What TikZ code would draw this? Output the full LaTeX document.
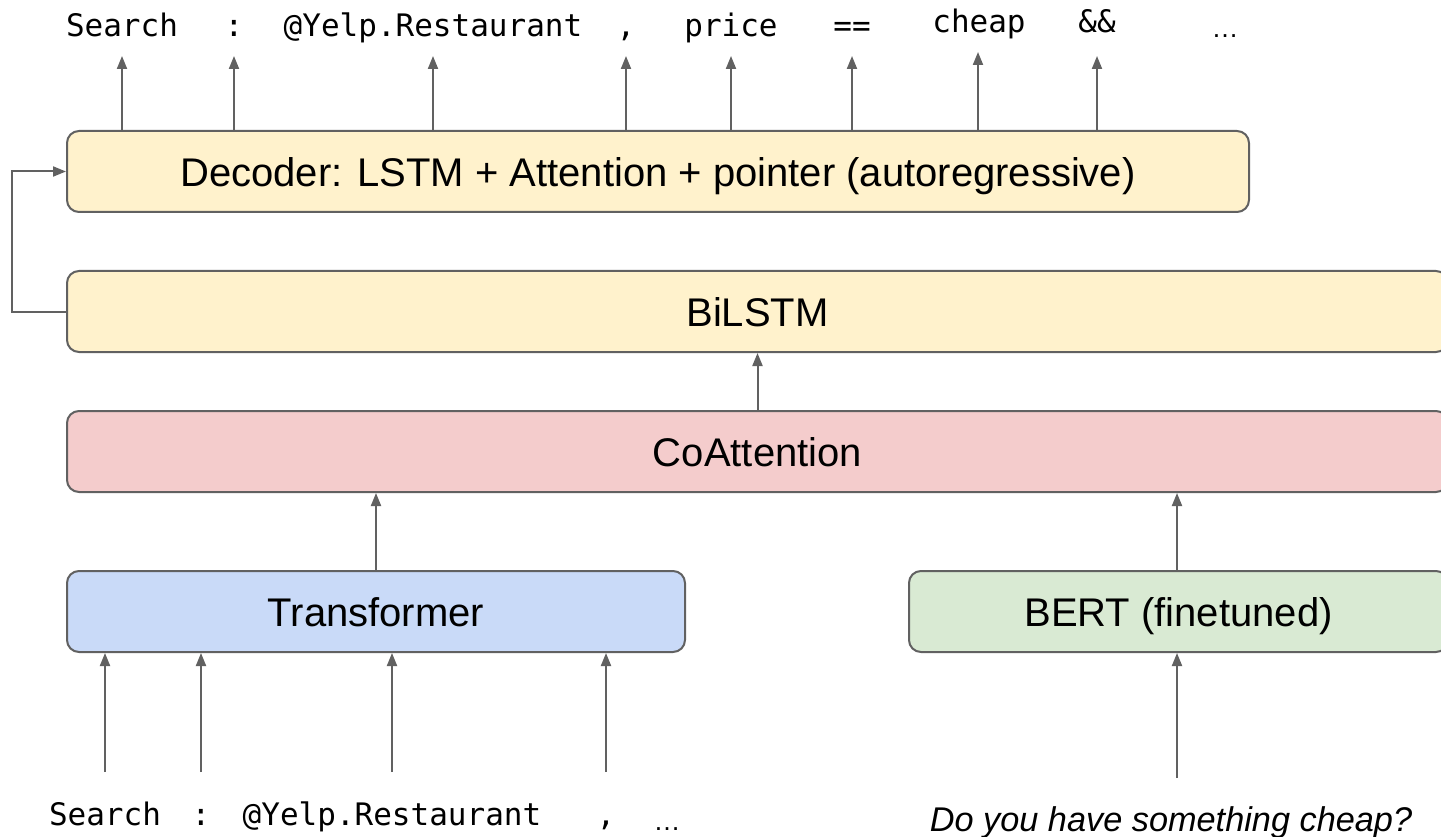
\documentclass[tikz,border=0pt]{standalone}
\usepackage{fontspec}
\setmainfont{Liberation Sans}
\setmonofont{DejaVu Sans Mono}
\usetikzlibrary{arrows.meta}

\definecolor{edge}{HTML}{616161}
\definecolor{yellowbox}{HTML}{FFF2CC}
\definecolor{pinkbox}{HTML}{F4CCCC}
\definecolor{bluebox}{HTML}{C9DAF8}
\definecolor{greenbox}{HTML}{D9EAD3}

\begin{document}
\begin{tikzpicture}[x=1pt, y=-1pt,
  layer/.style={draw=edge, line width=2pt, rounded corners=12pt, anchor=north west,
    inner sep=0pt, minimum height=81pt, text height=30pt, text depth=0pt,
    font=\fontsize{40}{48}\selectfont},
  tok/.style={anchor=base, inner sep=0pt, font=\ttfamily\fontsize{31}{36}\selectfont},
  dots/.style={anchor=base, inner sep=0pt, font=\rmfamily\fontsize{27}{32}\selectfont},
  arr/.style={draw=edge, line width=2pt, -{Triangle[length=13pt, width=10pt]}},
]
\useasboundingbox (0,0) rectangle (1441,837);
\clip (0,0) rectangle (1441,837);

% layers of the model
\node[layer, fill=yellowbox, minimum width=1182pt] (dec) at (66,130)
  {Decoder: LSTM + Attention + pointer (autoregressive)};
\node[layer, fill=yellowbox, minimum width=1381pt] (bilstm) at (66,270) {BiLSTM};
\node[layer, fill=pinkbox, minimum width=1381pt] (coatt) at (66,410) {CoAttention};
\node[layer, fill=bluebox, minimum width=618pt] (trans) at (66,570) {Transformer};
\node[layer, fill=greenbox, minimum width=539pt] (bert) at (908,570) {BERT (finetuned)};

% output tokens
\node[tok] (o1) at (122,37) {Search};
\node[tok] (o2) at (234,37) {:};
\node[tok] (o3) at (433,37) {@Yelp.Restaurant};
\node[tok] (o4) at (626,37) {,};
\node[tok] (o5) at (731,37) {price};
\node[tok] (o6) at (852,37) {==};
\node[tok] (o7) at (979,33) {cheap};
\node[tok] (o8) at (1097,33) {\&\&};
\node[dots] (o9) at (1225,38) {…};

% arrow tips below the output tokens
\coordinate (p1) at (122,56);
\coordinate (p2) at (234,56);
\coordinate (p3) at (433,56);
\coordinate (p4) at (626,56);
\coordinate (p5) at (731,56);
\coordinate (p6) at (852,56);
\coordinate (p7) at (978,52);
\coordinate (p8) at (1097,56);
\foreach \p in {p1,p2,p3,p4,p5,p6,p7,p8}
  \draw[arr] (\p |- dec.north) -- (\p);

% input tokens of the program
\node[tok] (i1) at (105,825) {Search};
\node[tok] (i2) at (201,825) {:};
\node[tok] (i3) at (392,825) {@Yelp.Restaurant};
\node[tok] (i4) at (606,825) {,};
\node[dots] (i5) at (667,830) {…};
\node[anchor=base, inner sep=0pt, font=\itshape\fontsize{34.3}{40}\selectfont]
  (utt) at (1171,831) {Do you have something cheap?};

% arrow tails above the input tokens
\coordinate (q1) at (105,772);
\coordinate (q2) at (201,772);
\coordinate (q3) at (392,772);
\coordinate (q4) at (606,772);
\coordinate (q5) at (1177,778);
\foreach \q in {q1,q2,q3,q4}
  \draw[arr] (\q) -- (\q |- trans.south);
\draw[arr] (q5) -- (q5 |- bert.south);

% encoder connections
\draw[arr] (trans.north) -- (trans.north |- coatt.south);
\draw[arr] (bert.north -| q5) -- (q5 |- coatt.south);
\draw[arr] (coatt.north) -- (coatt.north |- bilstm.south);

% BiLSTM state feeds the decoder
\draw[arr] (bilstm.west) -- ++(-54,0) |- (dec.west);
\end{tikzpicture}
\end{document}
